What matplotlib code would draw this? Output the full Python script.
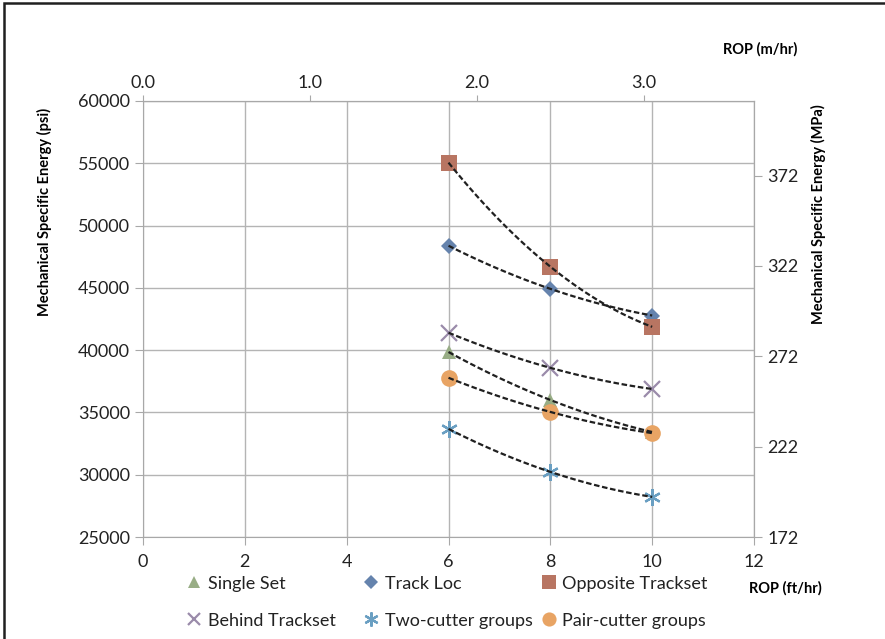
import numpy as np
import matplotlib
matplotlib.use("Agg")
from matplotlib import pyplot as plt
from matplotlib.patches import Rectangle

plt.rcParams["font.family"] = ["Lato", "DejaVu Sans"]

# ROP in ft/hr and mechanical specific energy in psi
rop = [6, 8, 10]
single_set = [39850, 36000, 33430]
track_loc = [48380, 44920, 42780]
opposite_trackset = [55050, 46700, 41870]
behind_trackset = [41400, 38580, 36880]
two_cutter = [33680, 30230, 28220]
pair_cutter = [37780, 35040, 33340]

series = [
    ("Single Set", single_set, "^", "#98AD85", 10),
    ("Track Loc", track_loc, "D", "#6583AD", 8),
    ("Opposite Trackset", opposite_trackset, "s", "#B87562", 11.5),
    ("Behind Trackset", behind_trackset, "x", "#9A8BAA", 11),
    ("Two-cutter groups", two_cutter, (6, 2, 0), "#6A9FC2", 12),
    ("Pair-cutter groups", pair_cutter, "o", "#E8A464", 12),
]

PSI_TO_MPA = 0.00689476
FT_TO_M = 0.3048
# right axis starts at a rounded 172 MPa like the original
PSI0, MPA0 = 25000, 172

fig = plt.figure(figsize=(8.85, 6.39), dpi=100)
ax = fig.add_axes([0.1616, 0.1596, 0.6904, 0.6824])

handles = {}
xs = np.linspace(6, 10, 60)
for name, vals, marker, color, ms in series:
    mew = 1.6 if marker in ("x", (6, 2, 0)) else 0
    h, = ax.plot(rop, vals, linestyle="none", marker=marker, markersize=ms,
                 color=color, markeredgecolor=color, markeredgewidth=mew,
                 zorder=3, label=name)
    handles[name] = h
    # excel-like trendline through the points
    coef = np.polyfit(rop, vals, 2)
    ax.plot(xs, np.polyval(coef, xs), color="#202020", lw=1.6,
            linestyle=(0, (2.5, 1.2)), zorder=4)

ax.set_xlim(0, 12)
ax.set_ylim(25000, 60000)
ax.set_xticks(range(0, 13, 2))
ax.set_yticks(range(25000, 60001, 5000))
ax.grid(True, color="#B4B4B4", lw=1)
ax.set_axisbelow(True)
for s in ax.spines.values():
    s.set_color("#A8A8A8")
ax.tick_params(labelsize=13, color="#A8A8A8", length=6, direction="out",
               labelcolor="#222222")
ax.tick_params(axis="x", pad=6)

ax.set_ylabel("Mechanical Specific Energy (psi)", fontsize=10.5,
              fontweight="bold")
ax.yaxis.set_label_coords(-0.149, 0.745)
ax.set_xlabel("ROP (ft/hr)", fontsize=10.5, fontweight="bold")
ax.xaxis.set_label_coords(1.052, -0.101)

# secondary axes
ax_r = ax.secondary_yaxis(
    "right",
    functions=(lambda p: MPA0 + (p - PSI0) * PSI_TO_MPA,
               lambda m: PSI0 + (m - MPA0) / PSI_TO_MPA))
ax_r.set_yticks([172, 222, 272, 322, 372])
ax_r.tick_params(labelsize=13, color="#A8A8A8", length=6, labelcolor="#222222")
ax_r.spines["right"].set_color("#A8A8A8")
ax_r.set_ylabel("Mechanical Specific Energy (MPa)", fontsize=10.5,
                fontweight="bold")
ax_r.yaxis.set_label_coords(1.093, 0.74, transform=ax.transAxes)

ax_t = ax.secondary_xaxis("top", functions=(lambda f: f * FT_TO_M,
                                            lambda m: m / FT_TO_M))
ax_t.set_xticks([0, 1, 2, 3])
ax_t.set_xticklabels(["0.0", "1.0", "2.0", "3.0"])
ax_t.tick_params(labelsize=13, color="#A8A8A8", length=4, labelcolor="#222222")
ax_t.spines["top"].set_color("#B4B4B4")
ax_t.set_xlabel("ROP (m/hr)", fontsize=10.5, fontweight="bold")
ax_t.xaxis.set_label_coords(1.01, 1.108, transform=ax.transAxes)

# legend, two rows of three
cols = [("Single Set", "Behind Trackset"),
        ("Track Loc", "Two-cutter groups"),
        ("Opposite Trackset", "Pair-cutter groups")]
col_x = [0.210, 0.410, 0.611]
for names, x in zip(cols, col_x):
    leg = fig.legend([handles[n] for n in names], names, loc="upper left",
                     bbox_to_anchor=(x, 0.099), frameon=False, fontsize=13,
                     handlelength=0.9, handletextpad=0.3, labelspacing=1.15,
                     borderaxespad=0, borderpad=0, markerscale=0.85)
    for t in leg.get_texts():
        t.set_color("#222222")

fig.patches.append(Rectangle((0.004, -0.02), 1.02, 1.015,
                             transform=fig.transFigure, fill=False,
                             edgecolor="#202020", lw=1.8))

fig.savefig("out.png", dpi=100)
